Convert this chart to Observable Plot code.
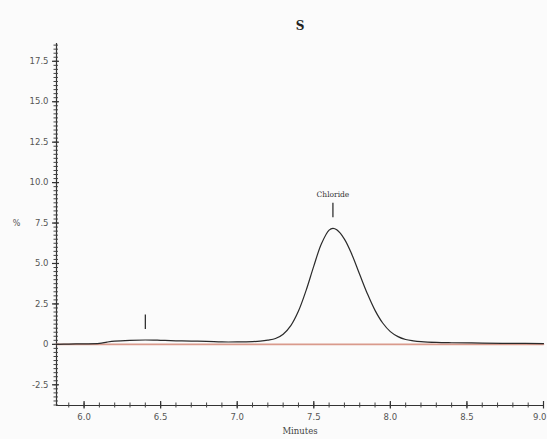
<!DOCTYPE html>
<html>
<head>
<meta charset="utf-8">
<script src="https://cdn.jsdelivr.net/npm/d3@7"></script>
<script src="https://cdn.jsdelivr.net/npm/@observablehq/plot@0.6"></script>
<style>
  html, body { margin: 0; padding: 0; background: #fbfbfb; }
  #chart { width: 547px; height: 439px; overflow: hidden; }
  svg { display: block; }
</style>
</head>
<body>
<div id="chart"></div>
<script>
// ---- data ----
const title = "S";
const xLabel = "Minutes";
const yLabel = "%";
const traceTime = [5.82, 5.9, 6.0, 6.1, 6.15, 6.2, 6.3, 6.4, 6.5, 6.6, 6.7, 6.8, 6.9, 7.0, 7.1, 7.15,
  7.2, 7.25, 7.3, 7.35, 7.4, 7.45, 7.5, 7.55, 7.6, 7.625, 7.65, 7.7, 7.75, 7.8, 7.85, 7.9,
  7.95, 8.0, 8.05, 8.1, 8.15, 8.2, 8.3, 8.4, 8.6, 8.8, 9.0];
const traceValue = [0.0, 0.02, 0.03, 0.06, 0.14, 0.2, 0.25, 0.27, 0.25, 0.22, 0.2, 0.19, 0.15, 0.15, 0.17, 0.2,
  0.26, 0.36, 0.63, 1.16, 2.06, 3.34, 4.84, 6.22, 7.06, 7.17, 7.08, 6.51, 5.53, 4.32, 3.13, 2.1,
  1.32, 0.79, 0.48, 0.3, 0.22, 0.17, 0.12, 0.1, 0.08, 0.06, 0.05];
const baselineTime = [5.82, 9.0];
const baselineValue = [0, 0];
const peakNames = ["Chloride", ""];
const peakTimes = [7.625, 6.4];
const peakHeights = [7.17, 0.27];
const xTicks = [6.0, 6.5, 7.0, 7.5, 8.0, 8.5, 9.0];
const yTicks = [-2.5, 0, 2.5, 5.0, 7.5, 10.0, 12.5, 15.0, 17.5];
const xDomain = [5.82, 9.0];
const yDomain = [-3.78, 18.6];

// ---- derived tables ----
const trace = traceTime.map((t, i) => ({t, v: traceValue[i]}));
const baseline = baselineTime.map((t, i) => ({t, v: baselineValue[i]}));
const peaks = peakNames.map((name, i) => ({name, t: peakTimes[i], h: peakHeights[i]}));
const xMinor = d3.range(59, 91).map(k => k / 10);
const yMinor = d3.range(-15, 75).map(k => k / 4);

const pxPerX = 487 / (xDomain[1] - xDomain[0]);
const pxPerY = 362 / (yDomain[1] - yDomain[0]);
const X0 = xDomain[0], Y0 = yDomain[0];
const font = "DejaVu Sans";
const xInner = xTicks.slice(0, -1);
const xLast = xTicks.slice(-1);

const chart = Plot.plot({
  width: 547,
  height: 439,
  marginLeft: 56,
  marginRight: 4,
  marginTop: 43,
  marginBottom: 34,
  style: {background: "transparent", fontFamily: font},
  x: {domain: xDomain, axis: null},
  y: {domain: yDomain, axis: null},
  marks: [
    // axis lines
    Plot.ruleY([Y0], {stroke: "#333", strokeWidth: 1.2}),
    Plot.ruleX([X0], {stroke: "#333", strokeWidth: 1.2}),
    // minor ticks crossing axes
    Plot.ruleX(xMinor, {x: d => d, y1: Y0 - 2.5 / pxPerY, y2: Y0 + 2.5 / pxPerY, stroke: "#444", strokeWidth: 1}),
    Plot.ruleX(xTicks, {x: d => d, y1: Y0 - 3.5 / pxPerY, y2: Y0 + 4 / pxPerY, stroke: "#333", strokeWidth: 1.2}),
    Plot.ruleY(yMinor, {y: d => d, x1: X0 - 2.5 / pxPerX, x2: X0 + 2 / pxPerX, stroke: "#444", strokeWidth: 1}),
    Plot.ruleY(yTicks, {y: d => d, x1: X0 - 4 / pxPerX, x2: X0 + 3 / pxPerX, stroke: "#333", strokeWidth: 1.2}),
    // tick labels
    Plot.text(xInner, {x: d => d, y: Y0, text: d => d.toFixed(1), dy: 12, fontSize: 8.5, fill: "#555"}),
    Plot.text(xLast, {x: d => d, y: Y0, text: d => d.toFixed(1), dy: 12, dx: 3, textAnchor: "end", fontSize: 8.5, fill: "#555"}),
    Plot.text(yTicks, {x: X0, y: d => d, text: d => d === 0 ? "0" : d.toFixed(1), dx: -8, textAnchor: "end", fontSize: 8.5, fill: "#555"}),
    // axis titles
    Plot.text([xLabel], {frameAnchor: "bottom", dy: 28, fontSize: 8.5, fill: "#444", fontFamily: "DejaVu Serif"}),
    Plot.text([yLabel], {x: X0, y: 7.5, dx: -40, fontSize: 8, fill: "#555"}),
    Plot.text([title], {frameAnchor: "top", dy: -22, fontSize: 12, fontWeight: "bold", fill: "#222", fontFamily: "DejaVu Serif"}),
    // baseline (red) and trace (black)
    Plot.line(baseline, {x: "t", y: "v", stroke: "#d99a8c", strokeWidth: 1.6}),
    Plot.line(trace, {x: "t", y: "v", stroke: "#2a2a2a", strokeWidth: 1.2, curve: "catmull-rom"}),
    // peak markers
    Plot.ruleX(peaks, {x: "t", y1: d => d.h + 0.65, y2: d => d.h + 1.55, stroke: "#222", strokeWidth: 1.2}),
    Plot.text(peaks, {x: "t", y: d => d.h + 1.55, text: "name", dy: -9, fontSize: 7.5, fill: "#333", fontFamily: "DejaVu Serif"})
  ]
});
document.getElementById("chart").appendChild(chart);
</script>
</body>
</html>
